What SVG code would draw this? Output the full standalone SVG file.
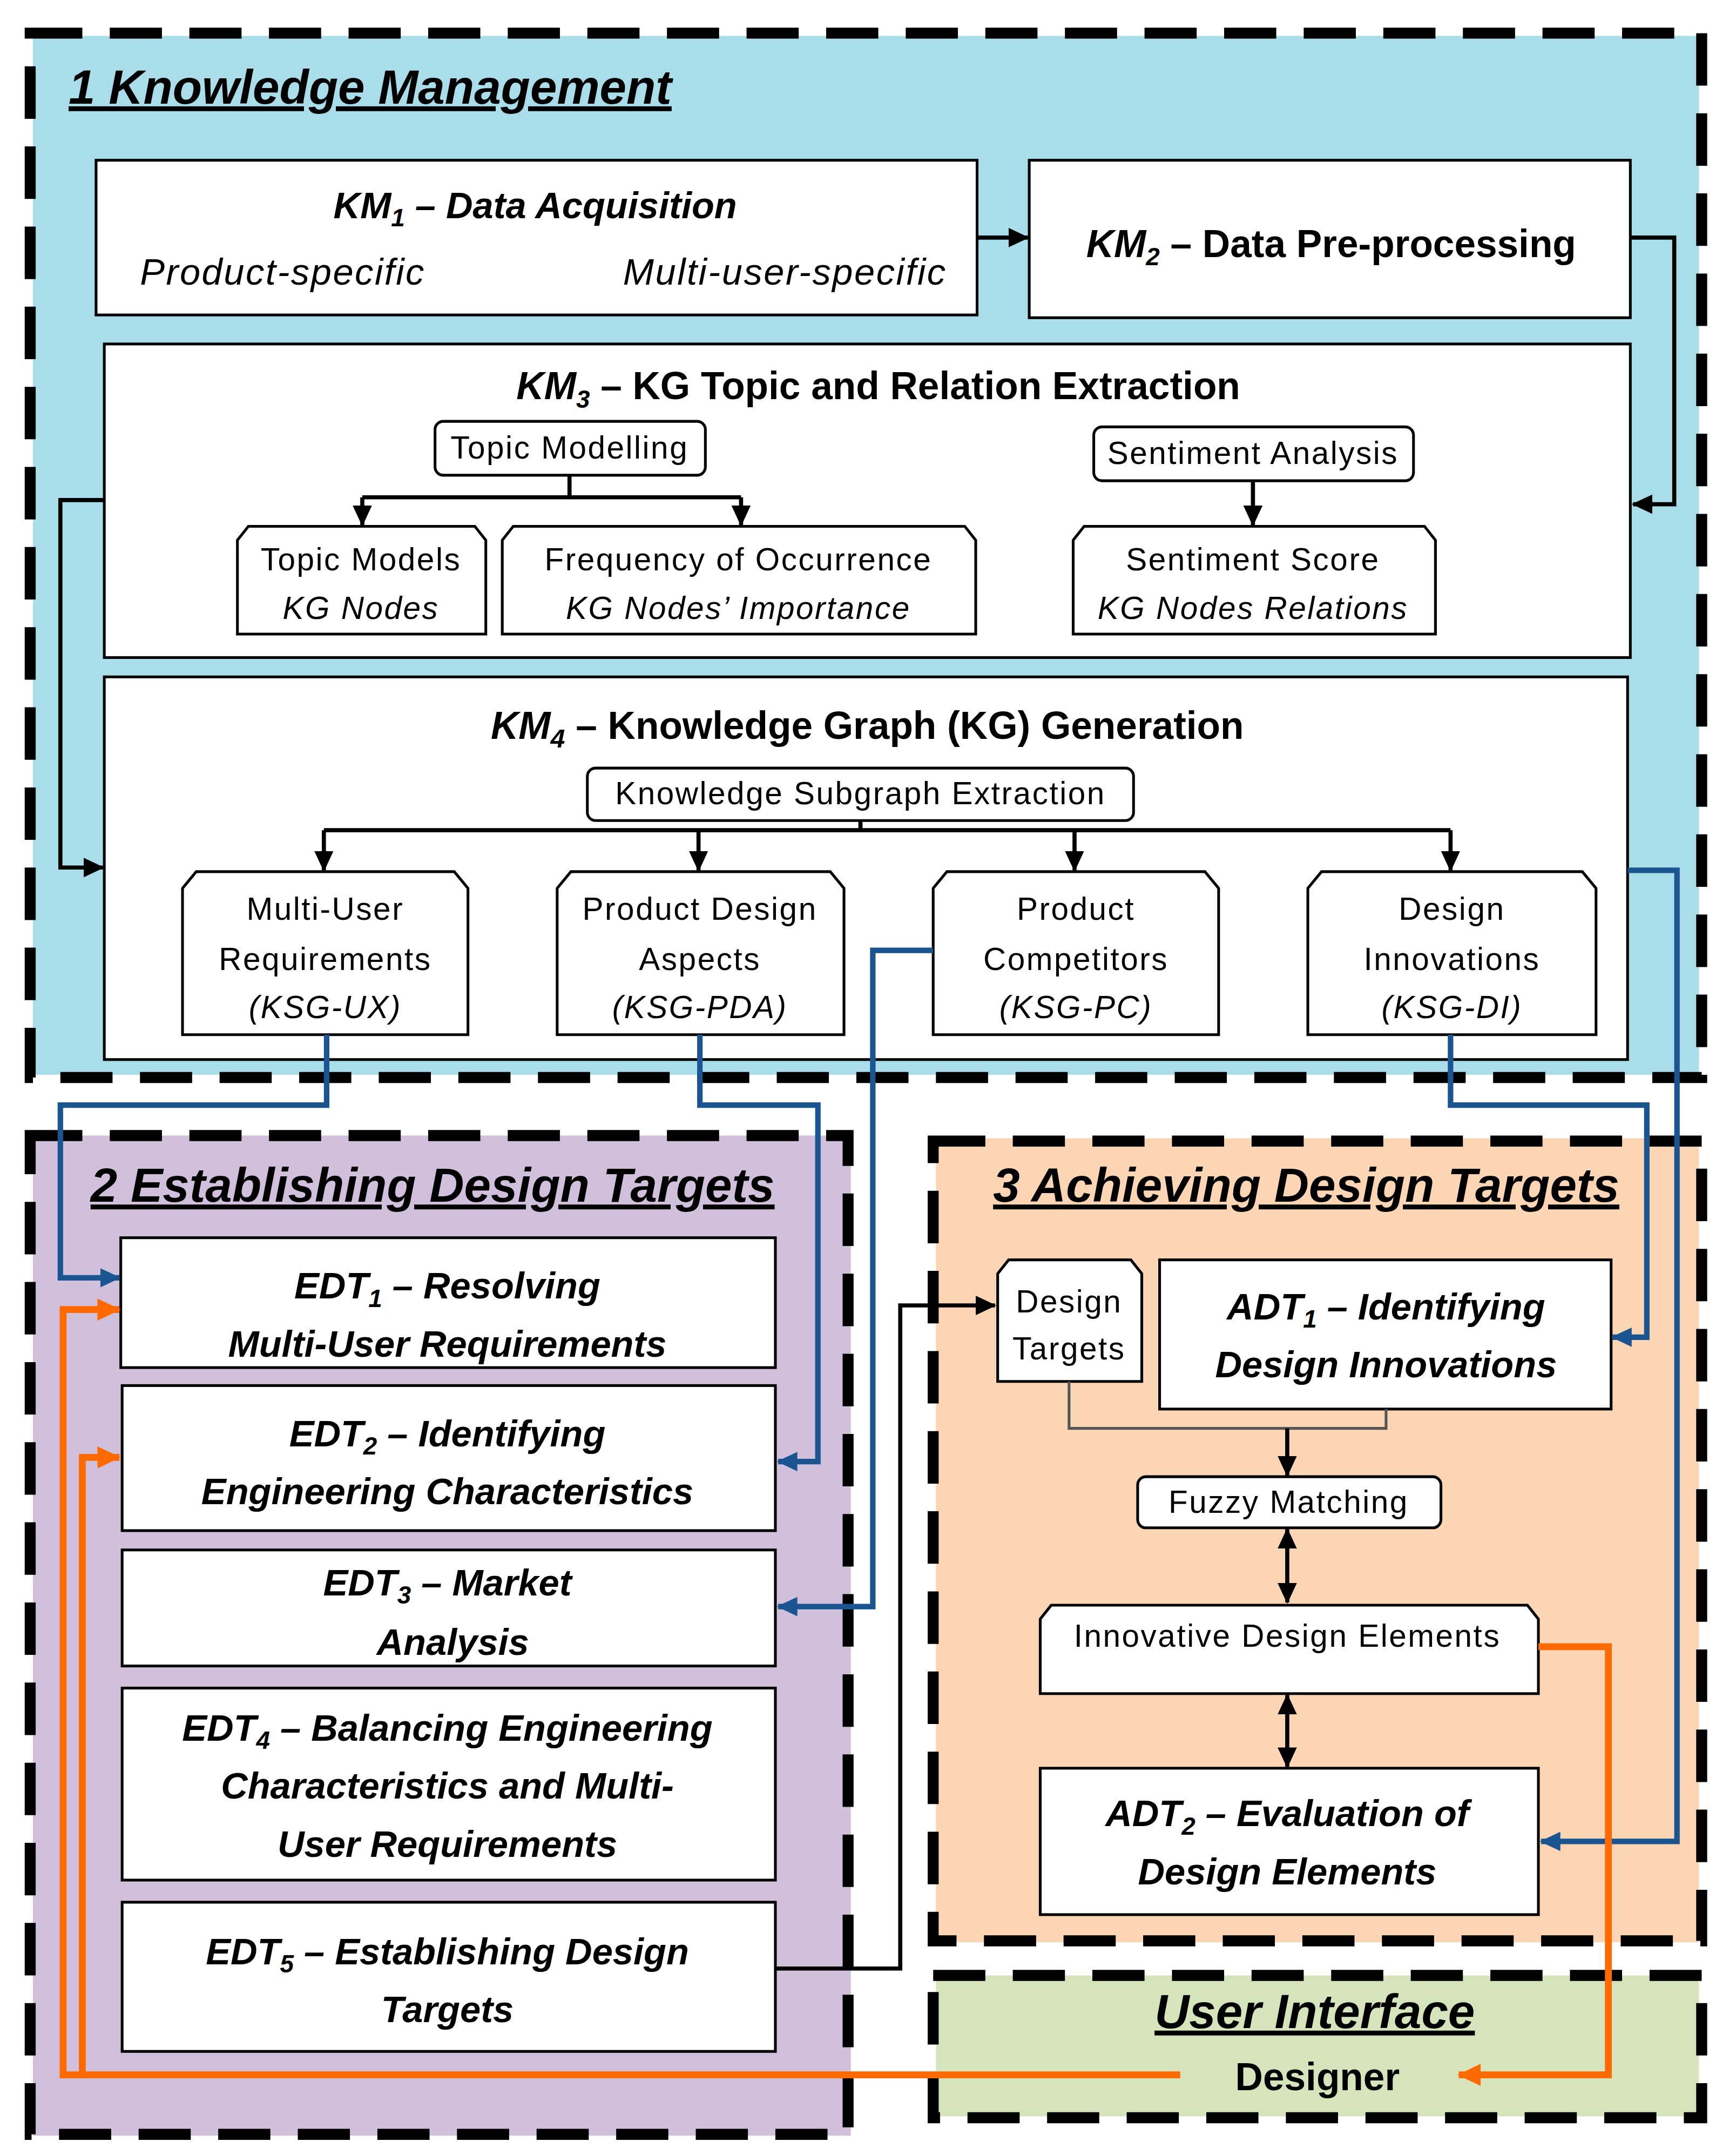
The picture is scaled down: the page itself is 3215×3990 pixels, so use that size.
<svg xmlns="http://www.w3.org/2000/svg" width="3215" height="3990" viewBox="0 0 3215 3990">
<defs>
<marker id="ak" markerUnits="userSpaceOnUse" markerWidth="16" markerHeight="16" refX="14" refY="8" orient="auto-start-reverse"><path d="M0,1 L15,8 L0,15 Z" fill="#000"/></marker>
<marker id="ab" markerUnits="userSpaceOnUse" markerWidth="16" markerHeight="16" refX="14" refY="8" orient="auto-start-reverse"><path d="M0,1 L15,8 L0,15 Z" fill="#1a5592"/></marker>
<marker id="ao" markerUnits="userSpaceOnUse" markerWidth="18" markerHeight="18" refX="16" refY="9" orient="auto-start-reverse"><path d="M0,1 L17,9 L0,17 Z" fill="#ff6a00"/></marker>
</defs>
<style>
.dash{fill:none;stroke:#000;stroke-width:8;stroke-dasharray:38 20}
.box{fill:#fff;stroke:#000;stroke-width:2}
.t{font-family:"Liberation Sans",Arial,sans-serif;fill:#000}
.h{font-size:35px;font-weight:bold;font-style:italic;text-decoration:underline}
.bt{font-size:28px;font-weight:bold}
.bi{font-size:27px;font-weight:bold;font-style:italic}
.it{font-size:27px;font-style:italic;letter-spacing:1px}
.s{font-size:23px;letter-spacing:1px}
.si{font-size:23px;font-style:italic;letter-spacing:1px}
.k{fill:none;stroke:#000;stroke-width:3}
.bl{fill:none;stroke:#1a5592;stroke-width:4}
.or{fill:none;stroke:#ff6a00;stroke-width:5}
</style>
<g transform="scale(2.5415,2.5577)">
<g id="km">
<rect x="24" y="26" width="1214" height="752" fill="#a8dde9"/>
<rect x="22" y="24" width="1218" height="756" class="dash"/>
<text x="50" y="75" class="t h">1 Knowledge Management</text>
</g>
<g id="edt">
<rect x="24" y="822" width="596" height="724" fill="#d0c0dc"/>
<rect x="22" y="822" width="596" height="723" class="dash"/>
<text x="66" y="870" class="t h">2 Establishing Design Targets</text>
</g>
<g id="adt">
<rect x="682" y="824" width="556" height="582" fill="#fcd5b5"/>
<rect x="680" y="826" width="560" height="579" class="dash"/>
<text x="1180" y="870" class="t h" text-anchor="end">3 Achieving Design Targets</text>
</g>
<g id="ui">
<rect x="682" y="1430" width="556" height="102" fill="#d6e4bc"/>
<rect x="680" y="1430" width="560" height="103" class="dash"/>
<text x="958" y="1468" class="t h" text-anchor="middle">User Interface</text>
<text x="960" y="1513" class="t bt" text-anchor="middle">Designer</text>
</g>
<g id="km1">
<rect x="70" y="116" width="642" height="112" class="box"/>
<text x="390" y="158" class="t bi" text-anchor="middle">KM<tspan font-size="18" dy="6">1</tspan><tspan dy="-6"> – Data Acquisition</tspan></text>
<text x="102" y="206" class="t it">Product-specific</text>
<text x="690" y="206" class="t it" text-anchor="end">Multi-user-specific</text>
</g>
<g id="km2">
<rect x="750" y="116" width="438" height="114" class="box"/>
<text x="970" y="186" class="t bt" text-anchor="middle"><tspan font-style="italic">KM</tspan><tspan font-size="18" font-style="italic" dy="6">2</tspan><tspan dy="-6"> – Data Pre-processing</tspan></text>
</g>
<g id="km3">
<rect x="76" y="249" width="1112" height="227" class="box"/>
<text x="640" y="289" class="t bt" text-anchor="middle"><tspan font-style="italic">KM</tspan><tspan font-size="18" font-style="italic" dy="6">3</tspan><tspan dy="-6"> – KG Topic and Relation Extraction</tspan></text>
<rect x="317" y="305" width="197" height="39" rx="6" class="box"/>
<text x="415" y="332" class="t s" text-anchor="middle">Topic Modelling</text>
<rect x="797" y="309" width="233" height="39" rx="6" class="box"/>
<text x="913" y="336" class="t s" text-anchor="middle">Sentiment Analysis</text>
<path d="M181,381 H346 L354,391 V459 H173 V391 Z" class="box"/>
<text x="263" y="413" class="t s" text-anchor="middle">Topic Models</text>
<text x="263" y="448" class="t si" text-anchor="middle">KG Nodes</text>
<path d="M374,381 H703 L711,391 V459 H366 V391 Z" class="box"/>
<text x="538" y="413" class="t s" text-anchor="middle">Frequency of Occurrence</text>
<text x="538" y="448" class="t si" text-anchor="middle">KG Nodes’ Importance</text>
<path d="M790,381 H1038 L1046,391 V459 H782 V391 Z" class="box"/>
<text x="913" y="413" class="t s" text-anchor="middle">Sentiment Score</text>
<text x="913" y="448" class="t si" text-anchor="middle">KG Nodes Relations</text>
</g>
<g id="km4">
<rect x="76" y="490" width="1110" height="277" class="box"/>
<text x="632" y="535" class="t bt" font-size="29" text-anchor="middle"><tspan font-style="italic">KM</tspan><tspan font-size="19" font-style="italic" dy="6">4</tspan><tspan dy="-6"> – Knowledge Graph (KG) Generation</tspan></text>
<rect x="428" y="556" width="398" height="38" rx="6" class="box"/>
<text x="627" y="582" class="t s" text-anchor="middle">Knowledge Subgraph Extraction</text>
<path d="M143,631 H331 L341,643 V749 H133 V643 Z" class="box"/>
<text x="237" y="666" class="t s" text-anchor="middle">Multi-User</text>
<text x="237" y="702" class="t s" text-anchor="middle">Requirements</text>
<text x="237" y="737" class="t si" text-anchor="middle">(KSG-UX)</text>
<path d="M416,631 H605 L615,643 V749 H406 V643 Z" class="box"/>
<text x="510" y="666" class="t s" text-anchor="middle">Product Design</text>
<text x="510" y="702" class="t s" text-anchor="middle">Aspects</text>
<text x="510" y="737" class="t si" text-anchor="middle">(KSG-PDA)</text>
<path d="M690,631 H878 L888,643 V749 H680 V643 Z" class="box"/>
<text x="784" y="666" class="t s" text-anchor="middle">Product</text>
<text x="784" y="702" class="t s" text-anchor="middle">Competitors</text>
<text x="784" y="737" class="t si" text-anchor="middle">(KSG-PC)</text>
<path d="M963,631 H1153 L1163,643 V749 H953 V643 Z" class="box"/>
<text x="1058" y="666" class="t s" text-anchor="middle">Design</text>
<text x="1058" y="702" class="t s" text-anchor="middle">Innovations</text>
<text x="1058" y="737" class="t si" text-anchor="middle">(KSG-DI)</text>
</g>
<g id="edt1">
<rect x="88" y="896" width="477" height="94" class="box"/>
<text x="326" y="940" class="t bi" text-anchor="middle">EDT<tspan font-size="18" dy="6">1</tspan><tspan dy="-6"> – Resolving</tspan></text>
<text x="326" y="982" class="t bi" text-anchor="middle">Multi-User Requirements</text>
</g>
<g id="edt2">
<rect x="89" y="1003" width="476" height="105" class="box"/>
<text x="326" y="1047" class="t bi" text-anchor="middle">EDT<tspan font-size="18" dy="6">2</tspan><tspan dy="-6"> – Identifying</tspan></text>
<text x="326" y="1089" class="t bi" text-anchor="middle">Engineering Characteristics</text>
</g>
<g id="edt3">
<rect x="89" y="1122" width="476" height="84" class="box"/>
<text x="326" y="1155" class="t bi" text-anchor="middle">EDT<tspan font-size="18" dy="6">3</tspan><tspan dy="-6"> – Market</tspan></text>
<text x="330" y="1198" class="t bi" text-anchor="middle">Analysis</text>
</g>
<g id="edt4">
<rect x="89" y="1222" width="476" height="139" class="box"/>
<text x="326" y="1260" class="t bi" text-anchor="middle">EDT<tspan font-size="18" dy="6">4</tspan><tspan dy="-6"> – Balancing Engineering</tspan></text>
<text x="326" y="1302" class="t bi" text-anchor="middle">Characteristics and Multi-</text>
<text x="326" y="1344" class="t bi" text-anchor="middle">User Requirements</text>
</g>
<g id="edt5">
<rect x="89" y="1377" width="476" height="108" class="box"/>
<text x="326" y="1422" class="t bi" text-anchor="middle">EDT<tspan font-size="18" dy="6">5</tspan><tspan dy="-6"> – Establishing Design</tspan></text>
<text x="326" y="1464" class="t bi" text-anchor="middle">Targets</text>
</g>
<g id="dt">
<path d="M735,912 H824 L832,922 V1000 H727 V922 Z" class="box"/>
<text x="779" y="950" class="t s" text-anchor="middle">Design</text>
<text x="779" y="984" class="t s" text-anchor="middle">Targets</text>
</g>
<g id="adt1">
<rect x="845" y="912" width="329" height="108" class="box"/>
<text x="1010" y="955" class="t bi" text-anchor="middle">ADT<tspan font-size="18" dy="6">1</tspan><tspan dy="-6"> – Identifying</tspan></text>
<text x="1010" y="997" class="t bi" text-anchor="middle">Design Innovations</text>
</g>
<g id="fuzzy">
<rect x="829" y="1069" width="221" height="37" rx="6" class="box"/>
<text x="939" y="1095" class="t s" text-anchor="middle">Fuzzy Matching</text>
</g>
<g id="ide">
<path d="M766,1162 H1113 L1121,1172 V1226 H758 V1172 Z" class="box"/>
<text x="938" y="1192" class="t s" text-anchor="middle">Innovative Design Elements</text>
</g>
<g id="adt2">
<rect x="758" y="1280" width="363" height="106" class="box"/>
<text x="938" y="1322" class="t bi" text-anchor="middle">ADT<tspan font-size="18" dy="6">2</tspan><tspan dy="-6"> – Evaluation of</tspan></text>
<text x="938" y="1364" class="t bi" text-anchor="middle">Design Elements</text>
</g>
<g id="connectors">
<path d="M712,172 H749" class="k" stroke-width="4" marker-end="url(#ak)"/>
<path d="M1188,172 H1220 V365 H1190" class="k" stroke-width="4" marker-end="url(#ak)"/>
<path d="M76,362 H44 V628 H75" class="k" stroke-width="4" marker-end="url(#ak)"/>
<path d="M415,344 V360" class="k"/>
<path d="M264,360 H540" class="k"/>
<path d="M264,360 V380" class="k" marker-end="url(#ak)"/>
<path d="M540,360 V380" class="k" marker-end="url(#ak)"/>
<path d="M913,348 V380" class="k" marker-end="url(#ak)"/>
<path d="M627,594 V601" class="k"/>
<path d="M236,601 H1057" class="k"/>
<path d="M236,601 V630" class="k" marker-end="url(#ak)"/>
<path d="M509,601 V630" class="k" marker-end="url(#ak)"/>
<path d="M783,601 V630" class="k" marker-end="url(#ak)"/>
<path d="M1057,601 V630" class="k" marker-end="url(#ak)"/>
<path d="M238,749 V800 H44 V925 H87" class="bl" marker-end="url(#ab)"/>
<path d="M510,749 V800 H596 V1058 H567" class="bl" marker-end="url(#ab)"/>
<path d="M680,688 H636 V1163 H567" class="bl" marker-end="url(#ab)"/>
<path d="M1057,749 V800 H1200 V968 H1175" class="bl" marker-end="url(#ab)"/>
<path d="M1186,630 H1222 V1333 H1123" class="bl" marker-end="url(#ab)"/>
<path d="M565,1425 H656 V945 H725" class="k" stroke-width="2" marker-end="url(#ak)"/>
<path d="M779,1000 V1034 H1010 V1020" fill="none" stroke="#555" stroke-width="2"/>
<path d="M938,1034 V1068" class="k" stroke-width="2" marker-end="url(#ak)"/>
<path d="M938,1107 V1160" class="k" stroke-width="2" marker-start="url(#ak)" marker-end="url(#ak)"/>
<path d="M938,1227 V1279" class="k" stroke-width="2" marker-start="url(#ak)" marker-end="url(#ak)"/>
<path d="M1121,1192 H1172 V1502 H1063" class="or" marker-end="url(#ao)"/>
<path d="M860,1502 H46 V948 H87" class="or" marker-end="url(#ao)"/>
<path d="M60,1502 V1055 H87" class="or" marker-end="url(#ao)"/>
</g>
</g>
</svg>
